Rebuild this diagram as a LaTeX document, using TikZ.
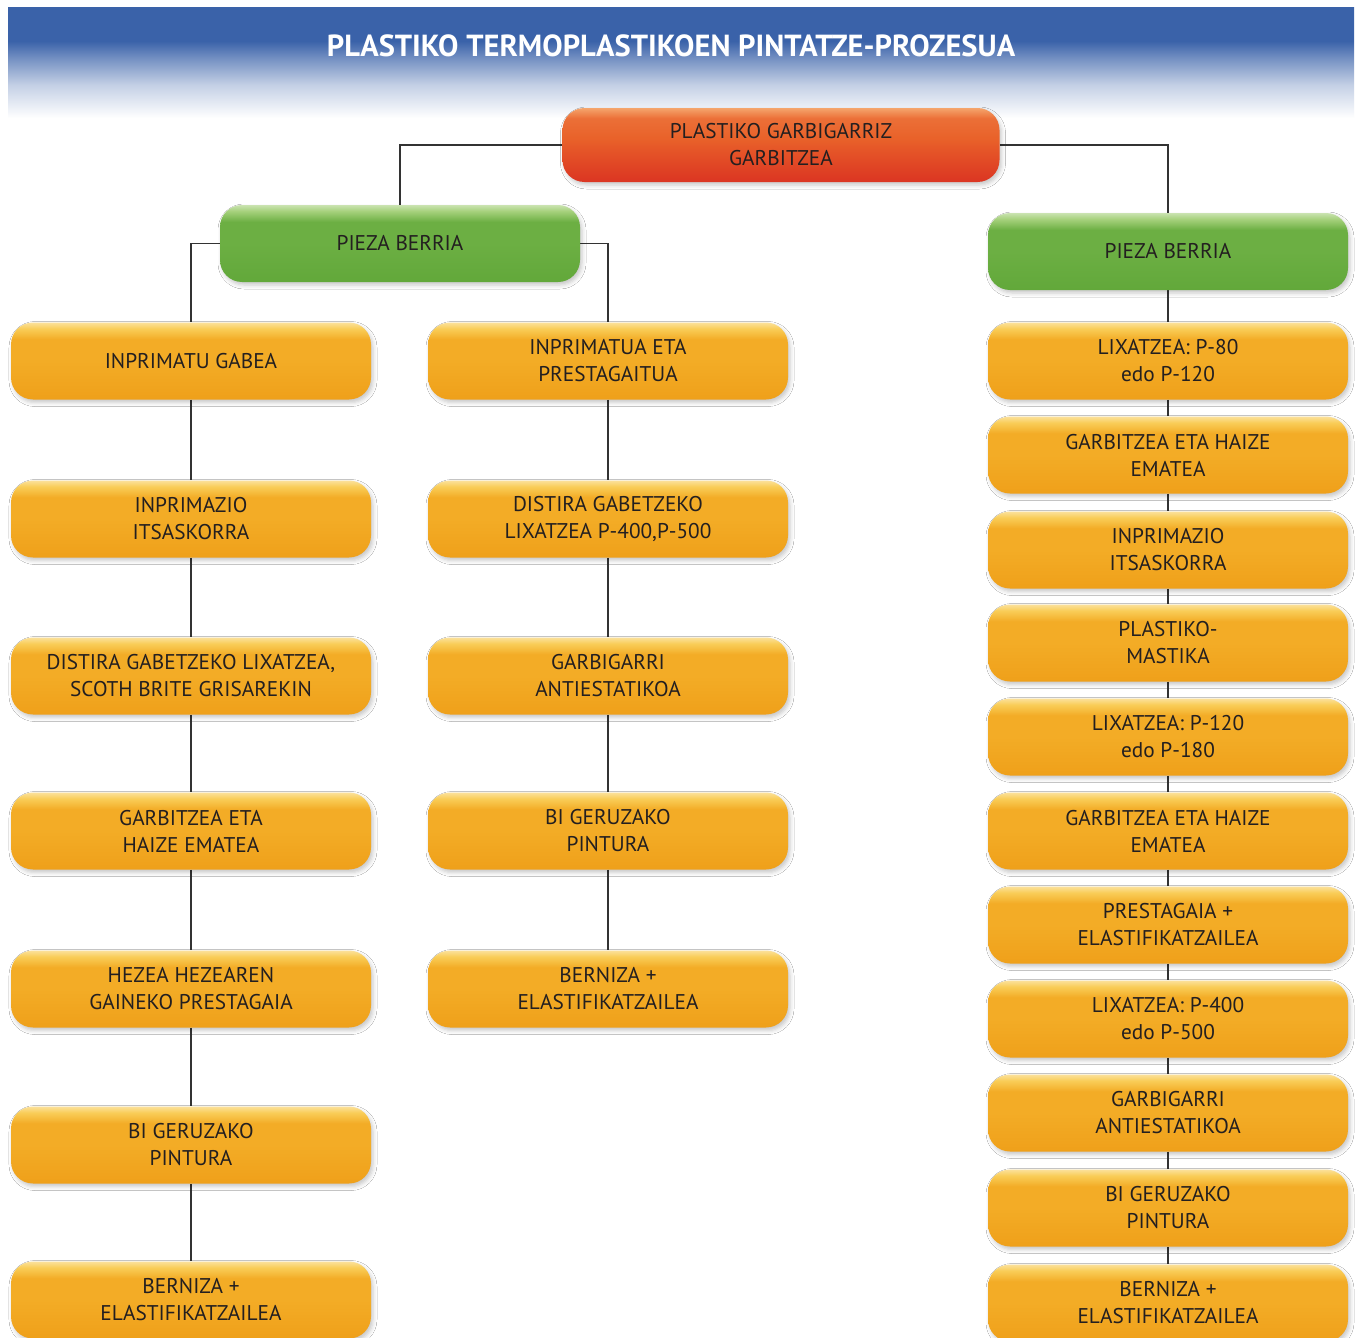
\documentclass[tikz,border=0pt]{standalone}
\usepackage{fontspec}
\setmainfont{PT Sans}
\usetikzlibrary{shadows.blur,backgrounds}
\definecolor{txt}{HTML}{231F20}
\definecolor{orB}{HTML}{EFA01A}
\definecolor{orM}{HTML}{F3AC26}
\definecolor{orL}{HTML}{F9CD58}
\definecolor{grB}{HTML}{62A83A}
\definecolor{grM}{HTML}{6CAF43}
\definecolor{grL}{HTML}{A6D17C}
\definecolor{rdB}{HTML}{DB3522}
\definecolor{rdM}{HTML}{E9622A}
\definecolor{rdL}{HTML}{F5A56C}
\definecolor{blT}{HTML}{3A62A9}
\pgfdeclareverticalshading{orshade}{100bp}{color(0bp)=(orB); color(25bp)=(orB); color(50bp)=(orM); color(64bp)=(orM); color(71bp)=(orL); color(75bp)=(orL!60!white); color(100bp)=(orL!60!white)}
\pgfdeclareverticalshading{grshade}{100bp}{color(0bp)=(grB); color(25bp)=(grB); color(50bp)=(grM); color(64bp)=(grM); color(71bp)=(grL); color(75bp)=(grL!60!white); color(100bp)=(grL!60!white)}
\pgfdeclareverticalshading{rdshade}{100bp}{color(0bp)=(rdB); color(25bp)=(rdB); color(55bp)=(rdM); color(68bp)=(rdM!80!rdL); color(75bp)=(rdL); color(100bp)=(rdL)}
\pgfdeclareverticalshading{titleshade}{100bp}{color(0bp)=(white); color(25bp)=(white); color(40bp)=(blT!30!white); color(52bp)=(blT!70!white); color(60bp)=(blT); color(100bp)=(blT)}
\tikzset{
  box/.style={rounded corners=22pt, minimum width=360pt, minimum height=77pt,
    inner sep=0pt, align=center, font=\fontsize{21.3}{27}\selectfont, text=txt,
    blur shadow={shadow xshift=2pt, shadow yshift=-3pt, shadow blur radius=4pt, shadow opacity=22}},
  obox/.style={box, shade, shading=orshade},
  gbox/.style={box, shade, shading=grshade},
  rbox/.style={box, shade, shading=rdshade, minimum width=437pt, minimum height=74pt},
  conn/.style={draw=black!80, line width=1.6pt}
}
\begin{document}
\begin{tikzpicture}[x=1pt,y=-1pt]
\useasboundingbox (0,0) rectangle (1358,1338);
\node[font=\fontsize{30.5}{34}\selectfont\bfseries, text=white] (title) at (671,46) {PLASTIKO TERMOPLASTIKOEN PINTATZE-PROZESUA};

\node[rbox] (top) at (781,145) {PLASTIKO GARBIGARRIZ\\GARBITZEA};
\node[gbox] (gl) at (400,243.5) {PIEZA BERRIA};
\node[gbox] (gr) at (1168,251.5) {PIEZA BERRIA};

% column 1
\node[obox] (a1) at (191,361) {INPRIMATU GABEA};
\node[obox] (a2) at (191,519) {INPRIMAZIO\\ITSASKORRA};
\node[obox] (a3) at (191,676) {DISTIRA GABETZEKO LIXATZEA,\\SCOTH BRITE GRISAREKIN};
\node[obox] (a4) at (191,831) {GARBITZEA ETA\\HAIZE EMATEA};
\node[obox] (a5) at (191,989) {HEZEA HEZEAREN\\GAINEKO PRESTAGAIA};
\node[obox] (a6) at (191,1145) {BI GERUZAKO\\PINTURA};
\node[obox] (a7) at (191,1300) {BERNIZA +\\ELASTIFIKATZAILEA};

% column 2
\node[obox] (b1) at (608,361) {INPRIMATUA ETA\\PRESTAGAITUA};
\node[obox] (b2) at (608,519) {DISTIRA GABETZEKO\\LIXATZEA P-400,P-500};
\node[obox] (b3) at (608,676) {GARBIGARRI\\ANTIESTATIKOA};
\node[obox] (b4) at (608,831) {BI GERUZAKO\\PINTURA};
\node[obox] (b5) at (608,989) {BERNIZA +\\ELASTIFIKATZAILEA};

% column 3
\node[obox] (c1) at (1168,361) {LIXATZEA: P-80\\edo P-120};
\node[obox] (c2) at (1168,455) {GARBITZEA ETA HAIZE\\EMATEA};
\node[obox] (c3) at (1168,550) {INPRIMAZIO\\ITSASKORRA};
\node[obox] (c4) at (1168,643) {PLASTIKO-\\MASTIKA};
\node[obox] (c5) at (1168,737) {LIXATZEA: P-120\\edo P-180};
\node[obox] (c6) at (1168,831) {GARBITZEA ETA HAIZE\\EMATEA};
\node[obox] (c7) at (1168,925) {PRESTAGAIA +\\ELASTIFIKATZAILEA};
\node[obox] (c8) at (1168,1019) {LIXATZEA: P-400\\edo P-500};
\node[obox] (c9) at (1168,1113) {GARBIGARRI\\ANTIESTATIKOA};
\node[obox] (c10) at (1168,1208) {BI GERUZAKO\\PINTURA};
\node[obox] (c11) at (1168,1303) {BERNIZA +\\ELASTIFIKATZAILEA};

\begin{scope}[on background layer]
\fill[white] (0,0) rectangle (1358,1338);
\shade[shading=titleshade] (8,8) rectangle (1354,118);
\draw[conn] (top.west) -| (gl.north);
\draw[conn] (top.east) -| (gr.north);
\draw[conn] (gl.west) -| (a1.north);
\draw[conn] (gl.east) -| (b1.north);
\draw[conn] (gr.south) -- (c1.north);
\foreach \p/\q in {a1/a2,a2/a3,a3/a4,a4/a5,a5/a6,a6/a7,b1/b2,b2/b3,b3/b4,b4/b5,c1/c2,c2/c3,c3/c4,c4/c5,c5/c6,c6/c7,c7/c8,c8/c9,c9/c10,c10/c11}
  \draw[conn] (\p.south) -- (\q.north);
\end{scope}
\end{tikzpicture}
\end{document}
